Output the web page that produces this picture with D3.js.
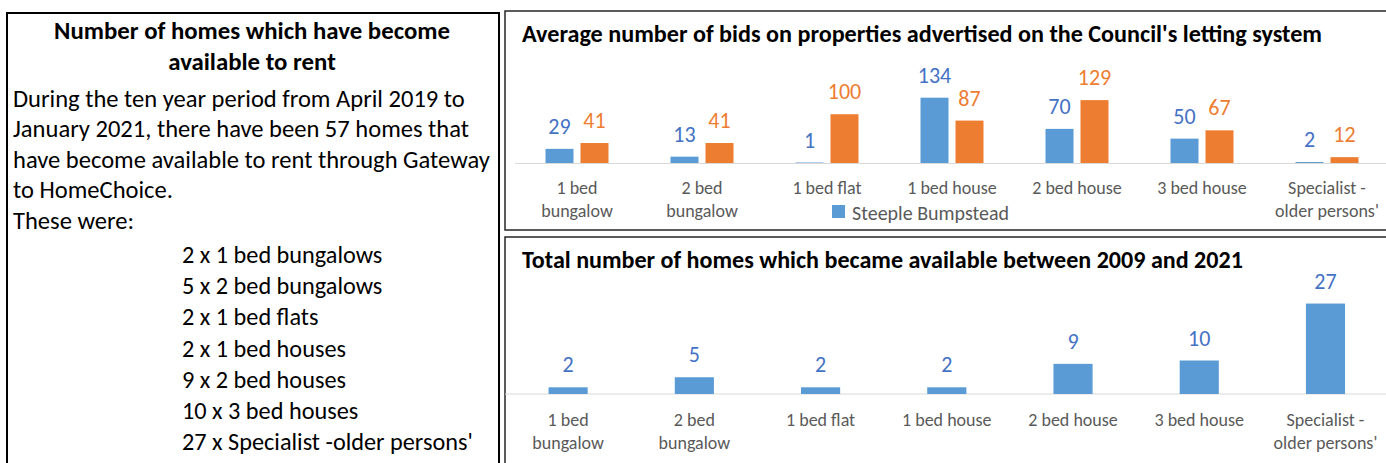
<!DOCTYPE html>
<html>
<head>
<meta charset="utf-8">
<script src="https://cdn.jsdelivr.net/npm/d3@7"></script>
<style>
  html, body { margin: 0; padding: 0; background: #fff; }
  svg { display: block; font-family: Carlito, Calibri, Lato, sans-serif; }
</style>
</head>
<body>
<svg id="chart" width="1386" height="463"></svg>
<script>
// ---------- DATA ----------
const categories = ["1 bed bungalow", "2 bed bungalow", "1 bed flat", "1 bed house", "2 bed house", "3 bed house", "Specialist - older persons'"];
const categoryLines = [["1 bed", "bungalow"], ["2 bed", "bungalow"], ["1 bed flat"], ["1 bed house"], ["2 bed house"], ["3 bed house"], ["Specialist -", "older persons'"]];
const seriesNames = ["Steeple Bumpstead", "District"];
const bidsSteeple = [29, 13, 1, 134, 70, 50, 2];
const bidsDistrict = [41, 41, 100, 87, 129, 67, 12];
const homesTotal = [2, 5, 2, 2, 9, 10, 27];
const bidsAxisMax = 160;
const homesAxisMax = 30;

const panelTitle = ["Number of homes which have become", "available to rent"];
const panelBody = [
  "During the ten year period from April 2019 to",
  "January 2021, there have been 57 homes that",
  "have become available to rent through Gateway",
  "to HomeChoice.",
  "These were:"
];
const panelList = [
  "2 x 1 bed bungalows",
  "5 x 2 bed bungalows",
  "2 x 1 bed flats",
  "2 x 1 bed houses",
  "9 x 2 bed houses",
  "10 x 3 bed houses",
  "27 x Specialist -older persons'"
];
const chartTitles = [
  "Average number of bids on properties advertised on the Council's letting system",
  "Total number of homes which became available between 2009 and 2021"
];

// ---------- STYLE ----------
const BLUE = "#5B9BD5", ORANGE = "#ED7D31", BLUE_LBL = "#4472C4", GREY = "#595959";

const svg = d3.select("#chart");
svg.append("rect").attr("width", 1386).attr("height", 463).attr("fill", "#fff");

// size a group of text nodes uniformly so that the reference node reaches a target width
function fitGroup(nodes, refIndex, target) {
  const ref = nodes[refIndex];
  const fs = parseFloat(ref.getAttribute("font-size"));
  const w = ref.getComputedTextLength();
  const nfs = (fs * target / w).toFixed(2);
  nodes.forEach(n => n.setAttribute("font-size", nfs));
}

// ---------- LEFT PANEL ----------
svg.append("rect").attr("x", 7).attr("y", 13).attr("width", 492).attr("height", 470)
  .attr("fill", "none").attr("stroke", "#000").attr("stroke-width", 2);

const tNodes = panelTitle.map((t, i) =>
  svg.append("text").attr("x", 252).attr("y", 39 + i * 31).attr("text-anchor", "middle")
    .attr("font-weight", "bold").attr("font-size", 20).attr("fill", "#000").text(t).node());
fitGroup(tNodes, 0, 396);

const bNodes = panelBody.map((t, i) =>
  svg.append("text").attr("x", 13).attr("y", 107 + i * 30.4)
    .attr("font-size", 20).attr("fill", "#000").text(t).node());
fitGroup(bNodes, 2, 477);

const lNodes = panelList.map((t, i) =>
  svg.append("text").attr("x", 182).attr("y", 263 + i * 31.2)
    .attr("font-size", 20).attr("fill", "#000").text(t).node());
fitGroup(lNodes, panelList.length - 1, 291);

// ---------- TOP CHART ----------
svg.append("rect").attr("x", 505).attr("y", 11).attr("width", 900).attr("height", 219)
  .attr("fill", "none").attr("stroke", "#262626").attr("stroke-width", 1.5);
const tt = svg.append("text").attr("x", 522).attr("y", 42).attr("font-weight", "bold")
  .attr("font-size", 20).attr("fill", "#000").text(chartTitles[0]).node();
fitGroup([tt], 0, 800);

const x0 = d3.scaleBand().domain(categories).range([514.5, 1389.5]).padding(0);
const x1 = d3.scaleBand().domain(seriesNames)
  .range([(x0.bandwidth() - 63) / 2, (x0.bandwidth() + 63) / 2]).paddingInner(0.2);
const yTop = d3.scaleLinear().domain([0, bidsAxisMax]).range([163, 85]);

const topG = svg.append("g");
const topAxis = topG.append("g").attr("transform", "translate(0,163)")
  .call(d3.axisBottom(x0).tickSize(0).tickFormat(""));
topAxis.select(".domain").attr("stroke", "#D9D9D9").attr("stroke-width", 1.2);

const bidSeries = [bidsSteeple, bidsDistrict];
const bidColors = [BLUE, ORANGE];
const bidLabelColors = [BLUE_LBL, ORANGE];
bidSeries.forEach((vals, s) => {
  const g = topG.append("g");
  g.selectAll("rect").data(vals).join("rect")
    .attr("x", (d, i) => x0(categories[i]) + x1(seriesNames[s]))
    .attr("width", x1.bandwidth())
    .attr("y", d => yTop(d))
    .attr("height", d => yTop(0) - yTop(d))
    .attr("fill", bidColors[s]);
  g.selectAll("text").data(vals).join("text")
    .attr("x", (d, i) => x0(categories[i]) + x1(seriesNames[s]) + x1.bandwidth() / 2)
    .attr("y", d => yTop(d) - 15)
    .attr("text-anchor", "middle").attr("font-size", 22).attr("fill", bidLabelColors[s])
    .text(d => d);
});
// category labels
categoryLines.forEach((lines, i) => {
  lines.forEach((ln, j) => {
    topG.append("text").attr("x", x0(categories[i]) + x0.bandwidth() / 2)
      .attr("y", 194 + j * 23).attr("text-anchor", "middle")
      .attr("font-size", 18).attr("fill", GREY).text(ln);
  });
});
// legend
svg.append("rect").attr("x", 832).attr("y", 205).attr("width", 13).attr("height", 13).attr("fill", BLUE);
svg.append("text").attr("x", 852).attr("y", 219.5).attr("font-size", 20).attr("fill", GREY).text(seriesNames[0]);

// ---------- BOTTOM CHART ----------
svg.append("rect").attr("x", 505).attr("y", 237).attr("width", 900).attr("height", 260)
  .attr("fill", "none").attr("stroke", "#262626").attr("stroke-width", 1.5);
const bt = svg.append("text").attr("x", 522).attr("y", 268).attr("font-weight", "bold")
  .attr("font-size", 20).attr("fill", "#000").text(chartTitles[1]).node();
fitGroup([bt], 0, 721);

const xb = d3.scaleBand().domain(categories).range([505, 1388.6]).paddingInner(0.69).paddingOuter(0.345);
const yBot = d3.scaleLinear().domain([0, homesAxisMax]).range([394, 293.5]);
const botG = svg.append("g");
const botAxis = botG.append("g").attr("transform", "translate(0,394)")
  .call(d3.axisBottom(xb).tickSize(0).tickFormat(""));
botAxis.select(".domain").attr("stroke", "#D9D9D9").attr("stroke-width", 1.2)
  .attr("d", "M505,0H1386");

botG.selectAll("rect.bar").data(homesTotal).join("rect").attr("class", "bar")
  .attr("x", (d, i) => xb(categories[i]))
  .attr("width", xb.bandwidth())
  .attr("y", d => yBot(d))
  .attr("height", d => yBot(0) - yBot(d))
  .attr("fill", BLUE);
botG.selectAll("text.val").data(homesTotal).join("text").attr("class", "val")
  .attr("x", (d, i) => xb(categories[i]) + xb.bandwidth() / 2)
  .attr("y", d => yBot(d) - 15)
  .attr("text-anchor", "middle").attr("font-size", 22).attr("fill", BLUE_LBL)
  .text(d => d);
categoryLines.forEach((lines, i) => {
  lines.forEach((ln, j) => {
    botG.append("text").attr("x", xb(categories[i]) + xb.bandwidth() / 2)
      .attr("y", 426 + j * 23).attr("text-anchor", "middle")
      .attr("font-size", 18).attr("fill", GREY).text(ln);
  });
});
</script>
</body>
</html>
